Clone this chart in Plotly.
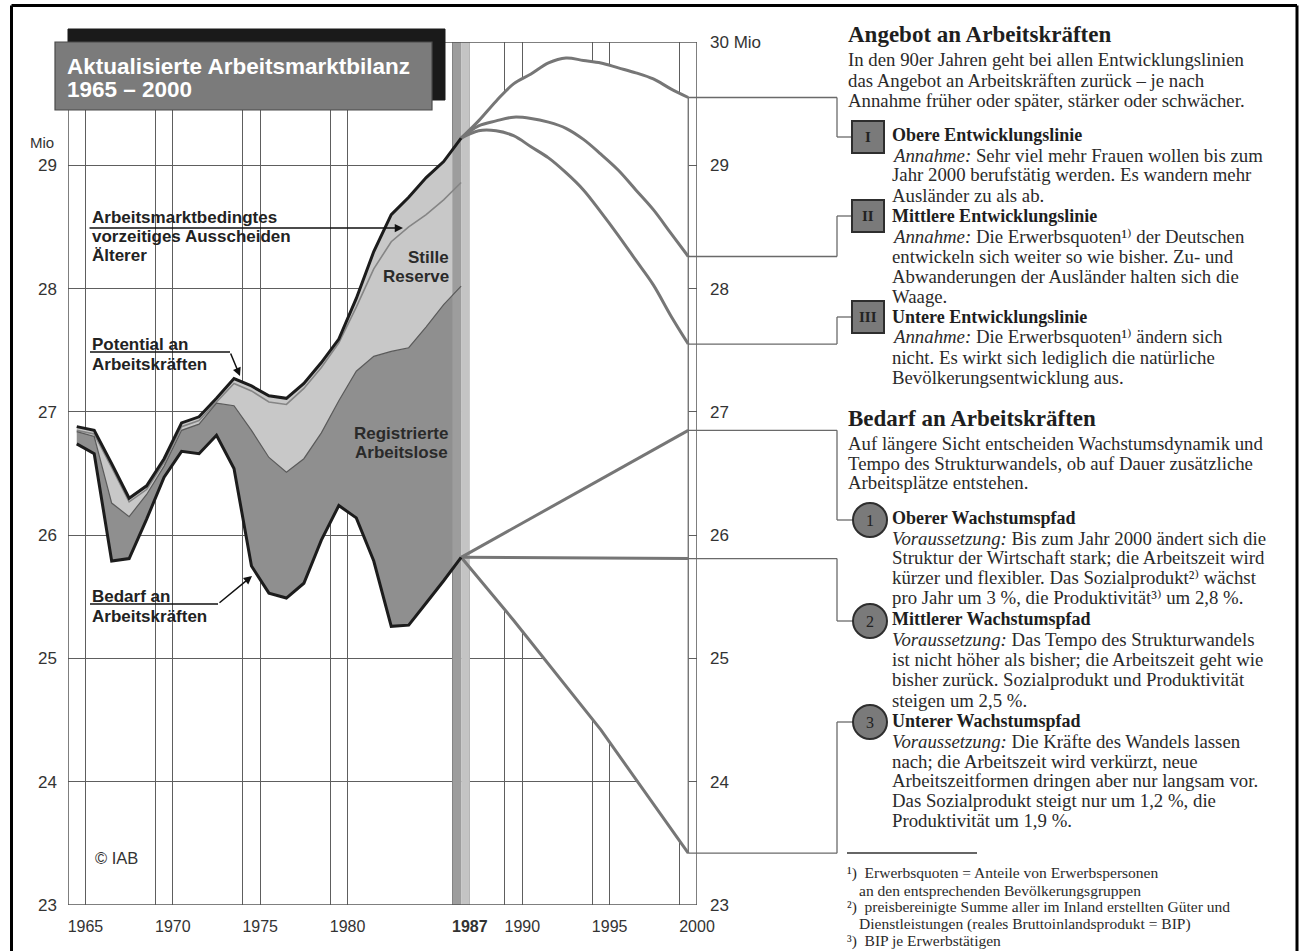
import plotly.graph_objects as go

W, H = 1306, 951

# ---------------- data (Mio) ----------------
hist_years = list(range(1965, 1988))
potential = [26.88, 26.85, 26.58, 26.30, 26.40, 26.62, 26.91, 26.96, 27.11, 27.27, 27.21, 27.13,
             27.11, 27.23, 27.40, 27.59, 27.92, 28.30, 28.60, 28.74, 28.90, 29.03, 29.22]
ohne_vorruhestand = [26.85, 26.82, 26.55, 26.27, 26.37, 26.59, 26.88, 26.93, 27.08, 27.23, 27.17, 27.08,
                     27.06, 27.19, 27.36, 27.56, 27.85, 28.16, 28.38, 28.50, 28.60, 28.72, 28.86]
registered_top = [26.84, 26.80, 26.26, 26.15, 26.33, 26.56, 26.85, 26.90, 27.07, 27.05, 26.85, 26.63,
                  26.51, 26.62, 26.83, 27.09, 27.33, 27.45, 27.49, 27.52, 27.69, 27.87, 28.02]
demand = [26.74, 26.66, 25.79, 25.81, 26.13, 26.47, 26.68, 26.66, 26.81, 26.54, 25.75, 25.53,
          25.49, 25.61, 25.96, 26.24, 26.14, 25.79, 25.26, 25.27, 25.45, 25.63, 25.82]

proj_years = list(range(1987, 2001))
supply_upper = [29.22, 29.36, 29.52, 29.66, 29.74, 29.83, 29.87, 29.85, 29.83, 29.79, 29.75, 29.70, 29.62, 29.55]
supply_middle = [29.22, 29.32, 29.36, 29.39, 29.38, 29.35, 29.30, 29.21, 29.09, 28.96, 28.80, 28.64, 28.45, 28.26]
supply_lower = [29.22, 29.28, 29.28, 29.24, 29.15, 29.06, 28.94, 28.80, 28.62, 28.43, 28.23, 28.03, 27.78, 27.55]

demand_upper_years = [1987, 2000]
demand_upper = [25.82, 26.85]
demand_middle_years = [1987, 2000]
demand_middle = [25.82, 25.81]
demand_lower_years = [1987, 1990, 1995, 2000]
demand_lower = [25.82, 25.31, 24.42, 23.42]

grid_years = [1964, 1965, 1969, 1970, 1974, 1975, 1979, 1980, 1986, 1987,
              1989, 1990, 1994, 1995, 1999, 2000]
label_years = [1965, 1970, 1975, 1980, 1987, 1990, 1995, 2000]
y_ticks = [23, 24, 25, 26, 27, 28, 29, 30]
bar_years = [1986, 1987]

# ---------------- geometry helpers ----------------
XR = (1964, 2000)
YR = (23, 30)
PX_L, PX_R = 68, 697      # plot left/right in px
PY_B, PY_T = 905, 42      # plot bottom/top in px

SANS = "Liberation Sans, Arial, Helvetica, sans-serif"
SERIF = "Liberation Serif, Times New Roman, DejaVu Serif, serif"
GRID = "#5e5e5e"
FAN = "#767676"
CONN = "#6a6a6a"


def mid(ys):
    return [y - 0.5 for y in ys]


def xpx(v):
    return PX_L + (v - XR[0]) / (XR[1] - XR[0]) * (PX_R - PX_L)


def ypx(v):
    return PY_B + (v - YR[0]) / (YR[1] - YR[0]) * (PY_T - PY_B)


def PXp(x):
    return x / W


def PYp(y):
    return 1 - y / H


fig = go.Figure()

# white mask between projections (hides grid there)
fig.add_trace(go.Scatter(
    x=mid(proj_years) + mid(demand_lower_years)[::-1],
    y=supply_upper + demand_lower[::-1],
    fill="toself", fillcolor="white", line=dict(width=0), mode="lines", hoverinfo="skip"))

# stacked historical areas
fig.add_trace(go.Scatter(x=mid(hist_years), y=potential, mode="lines", line=dict(width=0), hoverinfo="skip"))
fig.add_trace(go.Scatter(x=mid(hist_years), y=registered_top, mode="lines", line=dict(width=0),
                         fill="tonexty", fillcolor="#c8c8c8", hoverinfo="skip"))
fig.add_trace(go.Scatter(x=mid(hist_years), y=demand, mode="lines", line=dict(width=0),
                         fill="tonexty", fillcolor="#8f8f8f", hoverinfo="skip"))

# 1987 bar
bx0, bx1 = bar_years
bm = (bx0 + bx1) / 2
fig.add_trace(go.Scatter(x=[bx0, bm, bm, bx0], y=[YR[0], YR[0], YR[1], YR[1]], fill="toself",
                         fillcolor="#9d9d9d", line=dict(width=0), mode="lines", hoverinfo="skip"))
fig.add_trace(go.Scatter(x=[bm, bx1, bx1, bm], y=[YR[0], YR[0], YR[1], YR[1]], fill="toself",
                         fillcolor="#c4c4c4", line=dict(width=0), mode="lines", hoverinfo="skip"))

# end line of projections
end_x = mid([proj_years[-1]])[0]
fig.add_trace(go.Scatter(x=[end_x, end_x], y=[demand_lower[-1], supply_upper[-1]], mode="lines",
                         line=dict(color=CONN, width=1.3), hoverinfo="skip"))

# thin boundary lines
fig.add_trace(go.Scatter(x=mid(hist_years), y=ohne_vorruhestand, mode="lines",
                         line=dict(color="#858585", width=1.6), hoverinfo="skip"))
fig.add_trace(go.Scatter(x=mid(hist_years), y=registered_top, mode="lines",
                         line=dict(color="#5a5a5a", width=1.2), hoverinfo="skip"))

# projections
for ys, vals, shape in [(proj_years, supply_upper, "spline"), (proj_years, supply_middle, "spline"),
                        (proj_years, supply_lower, "spline"), (demand_upper_years, demand_upper, "linear"),
                        (demand_middle_years, demand_middle, "linear"), (demand_lower_years, demand_lower, "linear")]:
    fig.add_trace(go.Scatter(x=mid(ys), y=vals, mode="lines",
                             line=dict(color=FAN, width=3, shape=shape), hoverinfo="skip"))

# main black lines
fig.add_trace(go.Scatter(x=mid(hist_years), y=potential, mode="lines",
                         line=dict(color="#1c1c1c", width=3), hoverinfo="skip"))
fig.add_trace(go.Scatter(x=mid(hist_years), y=demand, mode="lines",
                         line=dict(color="#1c1c1c", width=3), hoverinfo="skip"))

# invisible trace for right axis
fig.add_trace(go.Scatter(x=[XR[0]], y=[YR[0]], yaxis="y2", mode="markers",
                         marker=dict(opacity=0), hoverinfo="skip"))

# ---------------- shapes ----------------
shapes = []


def seg(x0, y0, x1, y1, color=CONN, width=1.3, layer="above"):
    shapes.append(dict(type="line", xref="paper", yref="paper", x0=PXp(x0), y0=PYp(y0),
                       x1=PXp(x1), y1=PYp(y1), line=dict(color=color, width=width), layer=layer))


def rect(x0, y0, x1, y1, fill, color, width, kind="rect"):
    shapes.append(dict(type=kind, xref="paper", yref="paper", x0=PXp(x0), y0=PYp(y0),
                       x1=PXp(x1), y1=PYp(y1), fillcolor=fill, line=dict(color=color, width=width),
                       layer="above"))


# outer frame
seg(11.5, 5.5, 11.5, 951, "#000", 3)
seg(11.5, 5.5, 1297, 5.5, "#000", 3)
seg(1297, 5.5, 1297, 951, "#000", 3)

# plot frame lines
for (a, b, c, d) in [(XR[0], YR[0], XR[1], YR[0]), (XR[0], YR[1], XR[1], YR[1]),
                     (XR[1], YR[0], XR[1], YR[1]), (XR[0], YR[0], XR[0], YR[1])]:
    shapes.append(dict(type="line", xref="x", yref="y", x0=a, y0=b, x1=c, y1=d,
                       line=dict(color="#555", width=1.5), layer="above"))

# title box
rect(68, 29, 445, 100, "#1a1a1a", "#1a1a1a", 1)
rect(55, 42, 432, 110, "#7b7b7b", "#4a4a4a", 1.2)

# connectors: supply
CX = 837
sx = xpx(end_x)
box_y = [137, 216, 317]
for val, by in zip([supply_upper[-1], supply_middle[-1], supply_lower[-1]], box_y):
    yy = ypx(val)
    seg(sx, yy, CX, yy)
    seg(CX, yy, CX, by)
    seg(CX, by, 852, by)
# connectors: demand
circ_y = [520, 621, 722]
for val, cy in zip([demand_upper[-1], demand_middle[-1], demand_lower[-1]], circ_y):
    yy = ypx(val)
    seg(sx, yy, CX, yy)
    seg(CX, yy, CX, cy)
    seg(CX, cy, 853, cy)

# boxes and circles
for by in box_y:
    rect(852, by - 16, 884, by + 16, "#7a7a7a", "#2e2e2e", 2)
for cy in circ_y:
    rect(853, cy - 17, 887, cy + 17, "#7a7a7a", "#2e2e2e", 2, kind="circle")

# footnote separator
seg(847, 853, 977, 853, "#333", 1.3)

# pointer lines (horizontal parts)
seg(90, 352, 230, 352, "#111", 1.5)
seg(90, 604, 218, 604, "#111", 1.5)

# ---------------- annotations ----------------
ann = []


def text(x, y, s, size, family=SERIF, color="#2a2a2a", xanchor="left", yanchor="middle"):
    ann.append(dict(x=PXp(x), y=PYp(y), xref="paper", yref="paper", text=s, showarrow=False,
                    xanchor=xanchor, yanchor=yanchor, align=xanchor if xanchor != "center" else "center",
                    font=dict(size=size, family=family, color=color)))


def arrow(xt, yt, xh, yh):
    ann.append(dict(x=PXp(xh), y=PYp(yh), xref="paper", yref="paper", ax=xt - xh, ay=yt - yh,
                    axref="pixel", ayref="pixel", text="", showarrow=True, arrowhead=2,
                    arrowsize=1.1, arrowwidth=1.5, arrowcolor="#111", standoff=0))


# title
text(65, 66, "<b>Aktualisierte Arbeitsmarktbilanz</b>", 22.5, SANS, "white")
text(65, 90, "<b>1965 – 2000</b>", 22.5, SANS, "white")

# axis unit labels
text(42, 143, "Mio", 15, SANS, "#333", xanchor="center")

# chart labels
LBL = 17
text(90, 217, "<b>Arbeitsmarktbedingtes</b>", LBL, SANS, "#222")
text(90, 236, "<b>vorzeitiges Ausscheiden</b>", LBL, SANS, "#222")
text(90, 255, "<b>Älterer</b>", LBL, SANS, "#222")
arrow(88, 228, 403, 228)
text(451, 257, "<b>Stille</b>", LBL, SANS, "#2a2a2a", xanchor="right")
text(451, 276, "<b>Reserve</b>", LBL, SANS, "#2a2a2a", xanchor="right")
text(90, 344, "<b>Potential an</b>", LBL, SANS, "#222")
text(90, 364, "<b>Arbeitskräften</b>", LBL, SANS, "#222")
arrow(230, 352, 240, 376)
text(450, 433, "<b>Registrierte</b>", LBL, SANS, "#2a2a2a", xanchor="right")
text(450, 453, "<b>Arbeitslose</b>", LBL, SANS, "#2a2a2a", xanchor="right")
text(90, 596, "<b>Bedarf an</b>", LBL, SANS, "#222")
text(90, 616, "<b>Arbeitskräften</b>", LBL, SANS, "#222")
arrow(218, 604, 252, 576)
text(93, 858, "© IAB", 16.5, SANS, "#333")

# right panel
BODY = 18.8
HEAD = 23
SUB = 18
text(846, 35, "<b>Angebot an Arbeitskräften</b>", HEAD, SERIF, "#1e1e1e")
text(846, 59, "In den 90er Jahren geht bei allen Entwicklungslinien", BODY)
text(846, 80, "das Angebot an Arbeitskräften zurück – je nach", BODY)
text(846, 100, "Annahme früher oder später, stärker oder schwächer.", BODY)

for label, by in zip(["I", "II", "III"], box_y):
    text(868, by, "<b>%s</b>" % label, 15, SERIF, "#222", xanchor="center")
for label, cy in zip(["1", "2", "3"], circ_y):
    text(870, cy, label, 16, SERIF, "#222", xanchor="center")

TX = 890
panel_lines = [
    (135, "<b>Obere Entwicklungslinie</b>"),
    (155, "<i>Annahme:</i> Sehr viel mehr Frauen wollen bis zum"),
    (175, "Jahr 2000 berufstätig werden. Es wandern mehr"),
    (195, "Ausländer zu als ab."),
    (216, "<b>Mittlere Entwicklungslinie</b>"),
    (236, "<i>Annahme:</i> Die Erwerbsquoten¹⁾ der Deutschen"),
    (256, "entwickeln sich weiter so wie bisher. Zu- und"),
    (276, "Abwanderungen der Ausländer halten sich die"),
    (296, "Waage."),
    (317, "<b>Untere Entwicklungslinie</b>"),
    (336, "<i>Annahme:</i> Die Erwerbsquoten¹⁾ ändern sich"),
    (357, "nicht. Es wirkt sich lediglich die natürliche"),
    (377, "Bevölkerungsentwicklung aus."),
    (518, "<b>Oberer Wachstumspfad</b>"),
    (538, "<i>Voraussetzung:</i> Bis zum Jahr 2000 ändert sich die"),
    (557, "Struktur der Wirtschaft stark; die Arbeitszeit wird"),
    (577, "kürzer und flexibler. Das Sozialprodukt²⁾ wächst"),
    (597, "pro Jahr um 3 %, die Produktivität³⁾ um 2,8 %."),
    (619, "<b>Mittlerer Wachstumspfad</b>"),
    (639, "<i>Voraussetzung:</i> Das Tempo des Strukturwandels"),
    (659, "ist nicht höher als bisher; die Arbeitszeit geht wie"),
    (679, "bisher zurück. Sozialprodukt und Produktivität"),
    (700, "steigen um 2,5 %."),
    (721, "<b>Unterer Wachstumspfad</b>"),
    (741, "<i>Voraussetzung:</i> Die Kräfte des Wandels lassen"),
    (761, "nach; die Arbeitszeit wird verkürzt, neue"),
    (780, "Arbeitszeitformen dringen aber nur langsam vor."),
    (800, "Das Sozialprodukt steigt nur um 1,2 %, die"),
    (820, "Produktivität um 1,9 %."),
]
for y, s in panel_lines:
    bold = s.startswith("<b>")
    text(TX, y, s, SUB if bold else BODY, SERIF, "#1e1e1e" if bold else "#2a2a2a")

text(846, 419, "<b>Bedarf an Arbeitskräften</b>", HEAD, SERIF, "#1e1e1e")
text(846, 443, "Auf längere Sicht entscheiden Wachstumsdynamik und", BODY)
text(846, 463, "Tempo des Strukturwandels, ob auf Dauer zusätzliche", BODY)
text(846, 483, "Arbeitsplätze entstehen.", BODY)

FN = 15.5
text(845, 873, "¹)  Erwerbsquoten = Anteile von Erwerbspersonen", FN)
text(857, 890, "an den entsprechenden Bevölkerungsgruppen", FN)
text(845, 907, "²)  preisbereinigte Summe aller im Inland erstellten Güter und", FN)
text(857, 924, "Dienstleistungen (reales Bruttoinlandsprodukt = BIP)", FN)
text(845, 941, "³)  BIP je Erwerbstätigen", FN)

# ---------------- layout ----------------
x_ticktext = [("<b>%d</b>" % y if y == 1987 else str(y)) if y in label_years else "" for y in grid_years]
dom_x = [PX_L / W, PX_R / W]
dom_y = [(H - PY_B) / H, (H - PY_T) / H]

fig.update_layout(
    width=W, height=H,
    margin=dict(l=0, r=0, t=0, b=0),
    paper_bgcolor="white", plot_bgcolor="white",
    showlegend=False,
    xaxis=dict(domain=dom_x, range=list(XR), tickvals=grid_years, ticktext=x_ticktext,
               showgrid=True, gridcolor=GRID, gridwidth=1.2, zeroline=False, showline=False,
               ticks="", ticklabelstandoff=10, automargin=False,
               tickfont=dict(family=SANS, size=16, color="#333"), fixedrange=True),
    yaxis=dict(domain=dom_y, range=list(YR), tickvals=y_ticks,
               ticktext=[str(v) if v < 30 else "" for v in y_ticks],
               showgrid=True, gridcolor=GRID, gridwidth=1.2, zeroline=False, showline=False,
               ticks="", ticklabelstandoff=10, automargin=False,
               tickfont=dict(family=SANS, size=17, color="#333"), fixedrange=True),
    yaxis2=dict(overlaying="y", side="right", anchor="x", range=list(YR), tickvals=y_ticks,
                ticktext=[str(v) if v < 30 else "30 Mio" for v in y_ticks],
                showgrid=False, zeroline=False, showline=False, ticks="", ticklabelstandoff=12,
                automargin=False, tickfont=dict(family=SANS, size=17, color="#333"), fixedrange=True),
    shapes=shapes,
    annotations=ann,
)

fig.write_html("out.html", config={"displayModeBar": False},
               post_script="document.body.style.margin='0';document.body.style.overflow='hidden';")
